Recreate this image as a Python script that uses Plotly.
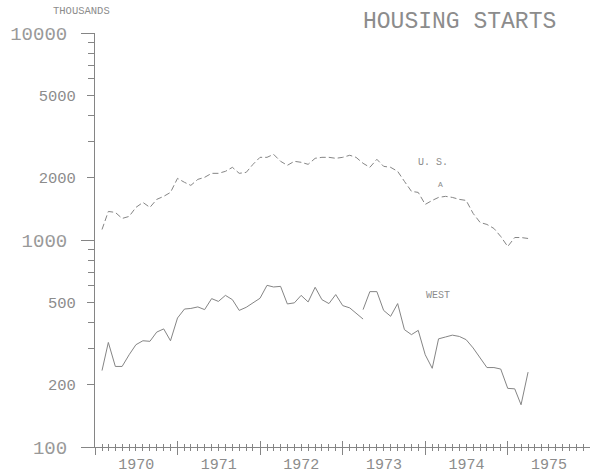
import pandas as pd
import plotly.graph_objects as go

# Monthly housing starts, thousands
months = pd.date_range('1970-02-01', periods=63, freq='MS')

us_starts = [1124, 1374, 1359, 1271, 1300, 1437, 1519, 1437, 1571, 1625,
             1698, 1985, 1899, 1836, 1963, 2008, 2099, 2099, 2146, 2244,
             2099, 2122, 2320, 2508, 2508, 2594, 2400, 2295, 2400, 2373,
             2320, 2481, 2508, 2508, 2481, 2508, 2566, 2508, 2347, 2244,
             2454, 2269, 2244, 2146, 1920, 1718, 1698, 1486, 1553, 1606,
             1625, 1606, 1571, 1553, 1344, 1215, 1189, 1137, 1040, 930,
             1028, 1028, 1017]

# West series has a break in April 1973 (old series, then revised series)
west_old = [234, 320, 245, 245, 279, 312, 326, 324, 359, 372,
            326, 420, 464, 467, 475, 461, 521, 505, 540, 515,
            457, 473, 497, 523, 604, 593, 597, 491, 497, 540,
            502, 591, 515, 493, 545, 482, 470, 444, 415]
west_new = [461, 563, 563, 457, 428, 493, 369, 349, 366, 279,
            240, 333, 340, 347, 342, 330, 301, 269, 242, 242,
            238, 192, 191, 160, 230]

small_ticks = [200, 500, 2000, 5000]
decade_ticks = [100, 1000, 10000]
minor_ticks = [m * d for d in (100, 1000) for m in range(2, 10)]

west_x = list(months[:len(west_old)]) + [months[len(west_old) - 1]] + list(months[len(west_old) - 1:])
west_y = west_old + [None] + west_new

INK = '#858585'
TEXT = '#8c8c8c'
FONT = 'Liberation Mono'

fig = go.Figure()
fig.add_trace(go.Scatter(x=months, y=us_starts, mode='lines',
                         line=dict(color=INK, width=1, dash='6px,3px'),
                         xaxis='x', yaxis='y'))
fig.add_trace(go.Scatter(x=west_x, y=west_y, mode='lines', connectgaps=False,
                         line=dict(color=INK, width=1),
                         xaxis='x2', yaxis='y2'))

xrange = ['1970-01-01', '1975-12-31']
fig.update_layout(
    width=590, height=473,
    margin=dict(l=95, r=0, t=33, b=26),
    plot_bgcolor='white', paper_bgcolor='white',
    showlegend=False,
    font=dict(family=FONT, color=TEXT),
    xaxis=dict(type='date', range=xrange, anchor='y', automargin=False,
               tick0='1970-01-01', dtick='M12', tickformat='%Y',
               ticklabelmode='period', ticks='outside', ticklen=7,
               tickcolor=INK, tickwidth=1, ticklabelstandoff=-4,
               minor=dict(dtick='M1', ticks='outside', ticklen=3, tickcolor=INK),
               showline=True, linecolor=INK, linewidth=1, showgrid=False,
               zeroline=False, tickfont=dict(size=15, color=TEXT, family=FONT)),
    xaxis2=dict(type='date', range=xrange, overlaying='x', anchor='y2', automargin=False,
                tick0='1970-01-01', dtick='M12', ticks='inside', ticklen=6,
                tickcolor=INK, showticklabels=False,
                minor=dict(dtick='M1', ticks='inside', ticklen=3, tickcolor=INK),
                showline=False, showgrid=False, zeroline=False),
    yaxis=dict(type='log', range=[2, 4], anchor='x', automargin=False,
               tickmode='array', tickvals=small_ticks,
               ticktext=[str(v) for v in small_ticks],
               ticks='outside', ticklen=7, tickcolor=INK,
               ticklabelstandoff=8,
               minor=dict(tickmode='array', tickvals=minor_ticks,
                          ticks='outside', ticklen=6, tickcolor=INK),
               showline=True, linecolor=INK, linewidth=1, showgrid=False,
               zeroline=False, tickfont=dict(size=15.5, color=TEXT, family=FONT)),
    yaxis2=dict(type='log', range=[2, 4], overlaying='y', anchor='x2', side='left',
                automargin=False,
                tickmode='array', tickvals=decade_ticks,
                ticktext=[str(v) for v in decade_ticks],
                ticks='outside', ticklen=13, tickcolor=INK,
                ticklabelstandoff=10,
                showline=True, linecolor=INK, linewidth=1, showgrid=False,
                zeroline=False, tickfont=dict(size=19, color='#999999', family=FONT)),
)

notes = [
    ('THOUSANDS', -0.028, 1.054, 10.5),
    ('HOUSING STARTS', 0.737, 1.027, 23),
    ('U. S.', 0.683, 0.686, 10),
    ('A', 0.697, 0.635, 8),
    ('WEST', 0.693, 0.367, 10),
]
for text, x, y, size in notes:
    fig.add_annotation(text=text, x=x, y=y, xref='paper', yref='paper',
                       xanchor='center', yanchor='middle', showarrow=False,
                       font=dict(size=size, color=TEXT, family=FONT))

# drop the default page margin so the figure sits at the window's corner
fig.write_html('out.html', config={'displayModeBar': False},
               post_script="document.body.style.margin='0';")
